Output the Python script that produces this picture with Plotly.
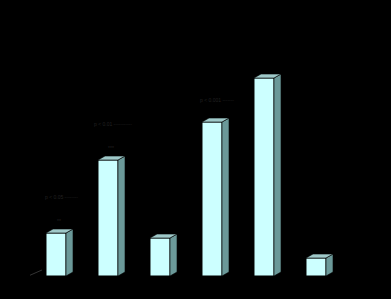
import plotly.graph_objects as go

categories = [0, 1, 2, 3, 4, 5]
values = [21.5, 58, 19, 77, 99, 9]
long_labels = {0: "p < 0.05 --------", 1: "p < 0.01 -----------", 3: "p < 0.001 -------"}
short_labels = {0: "**", 1: "***"}

W = 0.385      # bar width in x units
DX = 0.135     # depth offset in x units
DY = 2.0       # depth offset in y units

fig = go.Figure()
fig.add_trace(go.Bar(x=categories, y=values, width=W,
                     marker=dict(color="#ccffff", line=dict(color="#000000", width=1)),
                     hoverinfo="skip"))

for c, v in zip(categories, values):
    xl, xr = c - W / 2, c + W / 2
    # side face
    fig.add_trace(go.Scatter(x=[xr, xr + DX, xr + DX, xr, xr], y=[0, DY, v + DY, v, 0],
                             fill="toself", fillcolor="#6b9999", mode="lines",
                             line=dict(color="#000000", width=0.6), hoverinfo="skip"))
    # top face
    fig.add_trace(go.Scatter(x=[xl, xr, xr + DX, xl + DX, xl], y=[v, v, v + DY, v + DY, v],
                             fill="toself", fillcolor="#9fc9c9", mode="lines",
                             line=dict(color="#000000", width=0.6), hoverinfo="skip"))

annotations = []
for c, t in long_labels.items():
    annotations.append(dict(x=c + 0.1, y=values[c] + (18 if c in short_labels else 11), text=t,
                            showarrow=False, font=dict(size=5, color="#222222", family="Arial")))
for c, t in short_labels.items():
    annotations.append(dict(x=c + 0.05, y=values[c] + 6, text=t,
                            showarrow=False, font=dict(size=5, color="#222222", family="Arial")))

fig.add_shape(type="line", x0=-0.577, y0=-0.5, x1=-0.27, y1=3,
              line=dict(color="#333333", width=1))

fig.update_layout(
    width=391, height=299,
    margin=dict(l=30, r=49, t=20, b=23),
    paper_bgcolor="#000000", plot_bgcolor="#000000",
    showlegend=False,
    annotations=annotations,
    xaxis=dict(range=[-0.5, 5.5], visible=False, fixedrange=True),
    yaxis=dict(range=[0, 128], visible=False, fixedrange=True),
)

fig.write_html("out.html")
